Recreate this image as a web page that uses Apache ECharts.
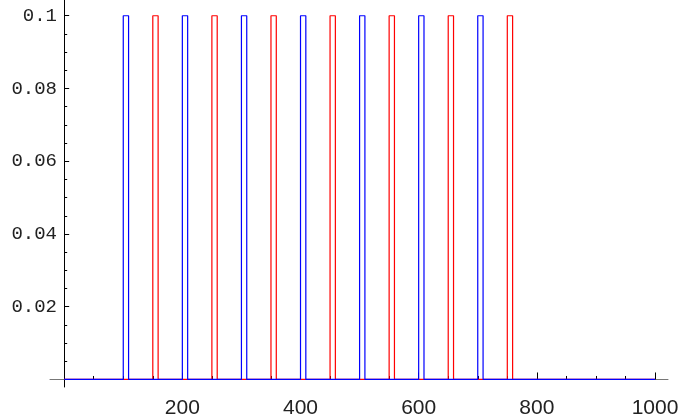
<!DOCTYPE html>
<html>
<head>
<meta charset="utf-8">
<script src="https://cdn.jsdelivr.net/npm/echarts@6/dist/echarts.min.js"></script>
<style>
html,body{margin:0;padding:0;background:#fff;}
#c{width:683px;height:419px;}
</style>
</head>
<body>
<div id="c"></div>
<script>
// Pulse edges (x values)
var blueRise = [100, 200, 300, 400, 500, 600, 700];
var blueFall = [109, 209, 309, 409, 509, 609, 709];
var redRise  = [150, 250, 350, 450, 550, 650, 750];
var redFall  = [159, 259, 359, 459, 559, 659, 759];
var pulseHigh = 0.1;
var baseLow = 0;
var xStart = 0, xEnd = 1000;

// Tick values and labels
var xMajorTicks = [200, 400, 600, 800, 1000];
var xMinorTicks = [50, 100, 150, 250, 300, 350, 450, 500, 550, 650, 700, 750, 850, 900, 950];
var yMajorTicks = [0.02, 0.04, 0.06, 0.08, 0.1];
var yTickLabels = ['0.02', '0.04', '0.06', '0.08', '0.1'];
var yMinorTicks = [0.005, 0.01, 0.015, 0.025, 0.03, 0.035, 0.045, 0.05, 0.055, 0.065, 0.07, 0.075, 0.085, 0.09, 0.095];

function buildSteps(rise, fall) {
  var pts = [[xStart, baseLow]];
  for (var i = 0; i < rise.length; i++) {
    pts.push([rise[i], baseLow]);
    pts.push([rise[i], pulseHigh]);
    pts.push([fall[i], pulseHigh]);
    pts.push([fall[i], baseLow]);
  }
  pts.push([xEnd, baseLow]);
  return pts;
}

function yLabel(v) {
  for (var i = 0; i < yMajorTicks.length; i++) {
    if (Math.abs(yMajorTicks[i] - v) < 1e-9) return yTickLabels[i];
  }
  return '';
}

var chart = echarts.init(document.getElementById('c'), null, {renderer: 'canvas'});
var xMin = -24, xMax = 1022, yMin = -0.00207, yMax = 0.10433;
chart.setOption({
  animation: false,
  grid: {left: 50, right: 15, top: 0, bottom: 32, containLabel: false, outerBoundsMode: 'none'},
  xAxis: [{
    type: 'value', min: xMin, max: xMax, position: 'bottom', z: 0,
    axisLine: {show: true, onZero: true, onZeroAxisIndex: 0, lineStyle: {color: '#777777', width: 1}},
    axisTick: {show: true, inside: true, length: 7, customValues: xMajorTicks, lineStyle: {color: '#000', width: 1}},
    axisLabel: {show: true, customValues: xMajorTicks, margin: 11, color: '#222', fontFamily: 'Liberation Sans', fontSize: 21,
      formatter: function (v) { return String(v); }},
    splitLine: {show: false}, minorTick: {show: false}
  }, {
    type: 'value', min: xMin, max: xMax, position: 'bottom', z: 0,
    axisLine: {show: false, onZero: true, onZeroAxisIndex: 1},
    axisTick: {show: true, inside: true, length: 3.5, customValues: xMinorTicks, lineStyle: {color: '#000', width: 1}},
    axisLabel: {show: false},
    splitLine: {show: false}
  }],
  yAxis: [{
    type: 'value', min: yMin, max: yMax, position: 'left', z: 0,
    axisLine: {show: true, onZero: true, onZeroAxisIndex: 0, lineStyle: {color: '#000', width: 1}},
    axisTick: {show: true, inside: true, length: 5, customValues: yMajorTicks, lineStyle: {color: '#000', width: 1}},
    axisLabel: {show: true, customValues: yMajorTicks, margin: -7, color: '#222', fontFamily: 'Liberation Mono', fontSize: 19,
      align: 'right', formatter: yLabel},
    splitLine: {show: false}
  }, {
    type: 'value', min: yMin, max: yMax, position: 'left', z: 0,
    axisLine: {show: false, onZero: true, onZeroAxisIndex: 1},
    axisTick: {show: true, inside: true, length: 3, customValues: yMinorTicks, lineStyle: {color: '#000', width: 1}},
    axisLabel: {show: false},
    splitLine: {show: false}
  }],
  series: [{
    type: 'line', xAxisIndex: 0, yAxisIndex: 0, data: buildSteps(redRise, redFall),
    showSymbol: false, symbol: 'none', clip: false, lineStyle: {color: '#ff0000', width: 1.2}, z: 10
  }, {
    type: 'line', xAxisIndex: 0, yAxisIndex: 0, data: buildSteps(blueRise, blueFall),
    showSymbol: false, symbol: 'none', clip: false, lineStyle: {color: '#0000ff', width: 1.2}, z: 11
  }]
});
</script>
</body>
</html>
